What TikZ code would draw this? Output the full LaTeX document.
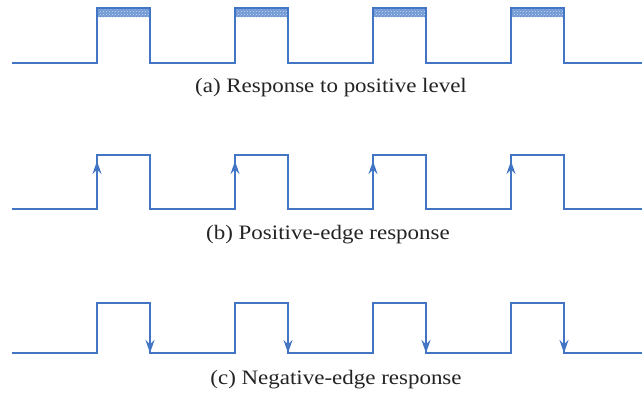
\documentclass[tikz,border=0pt]{standalone}
\usepackage{fontspec}
\setmainfont{Liberation Serif}
\newfontfamily\capfont[FakeStretch=1.12]{Liberation Serif}
\usetikzlibrary{arrows.meta,patterns}
\definecolor{wave}{RGB}{66,118,196}
\definecolor{band}{RGB}{112,152,212}
\definecolor{txt}{RGB}{35,35,35}
\tikzset{
  wavepath/.style={draw=wave,line width=1.4pt,line join=miter},
  edgearrow/.style={wave,line width=1.4pt,-{Stealth[length=13pt,width=9pt]}},
  caption/.style={text=txt,font=\capfont\fontsize{20.5}{22}\selectfont,inner sep=0pt},
  shade/.style={fill=band,draw=none}
}
\begin{document}
\begin{tikzpicture}[x=1pt,y=-1pt]
\useasboundingbox (0,0) rectangle (642,397);
% (a)
\foreach \s in {97,235,373,511}{
  \fill[shade] (\s,8) rectangle (\s+53,17);
  \fill[pattern=crosshatch dots,pattern color=white!70!band] (\s,8) rectangle (\s+53,17);
}
\draw[wavepath] (12,63) -- (97,63) -- (97,8) -- (150,8) -- (150,63)
  -- (235,63) -- (235,8) -- (288,8) -- (288,63)
  -- (373,63) -- (373,8) -- (426,8) -- (426,63)
  -- (511,63) -- (511,8) -- (564,8) -- (564,63) -- (642,63);
\node[caption] (capa) at (331,88) {(a) Response to positive level};
% (b)
\draw[wavepath] (12,209) -- (97,209) -- (97,155) -- (150,155) -- (150,209)
  -- (235,209) -- (235,155) -- (288,155) -- (288,209)
  -- (373,209) -- (373,155) -- (426,155) -- (426,209)
  -- (511,209) -- (511,155) -- (564,155) -- (564,209) -- (642,209);
\foreach \s in {97,235,373,511}{
  \coordinate (bstart\s) at (\s,190);
  \coordinate (btip\s) at (\s,161);
  \draw[edgearrow] (bstart\s) -- (btip\s);
}
\node[caption] (capb) at (328,235) {(b) Positive-edge response};
% (c)
\draw[wavepath] (12,353) -- (97,353) -- (97,303) -- (150,303) -- (150,353)
  -- (235,353) -- (235,303) -- (288,303) -- (288,353)
  -- (373,353) -- (373,303) -- (426,303) -- (426,353)
  -- (511,353) -- (511,303) -- (564,303) -- (564,353) -- (642,353);
\foreach \s in {150,288,426,564}{
  \coordinate (cstart\s) at (\s,325);
  \coordinate (ctip\s) at (\s,353);
  \draw[edgearrow] (cstart\s) -- (ctip\s);
}
\node[caption] (capc) at (336,380) {(c) Negative-edge response};
\end{tikzpicture}
\end{document}
